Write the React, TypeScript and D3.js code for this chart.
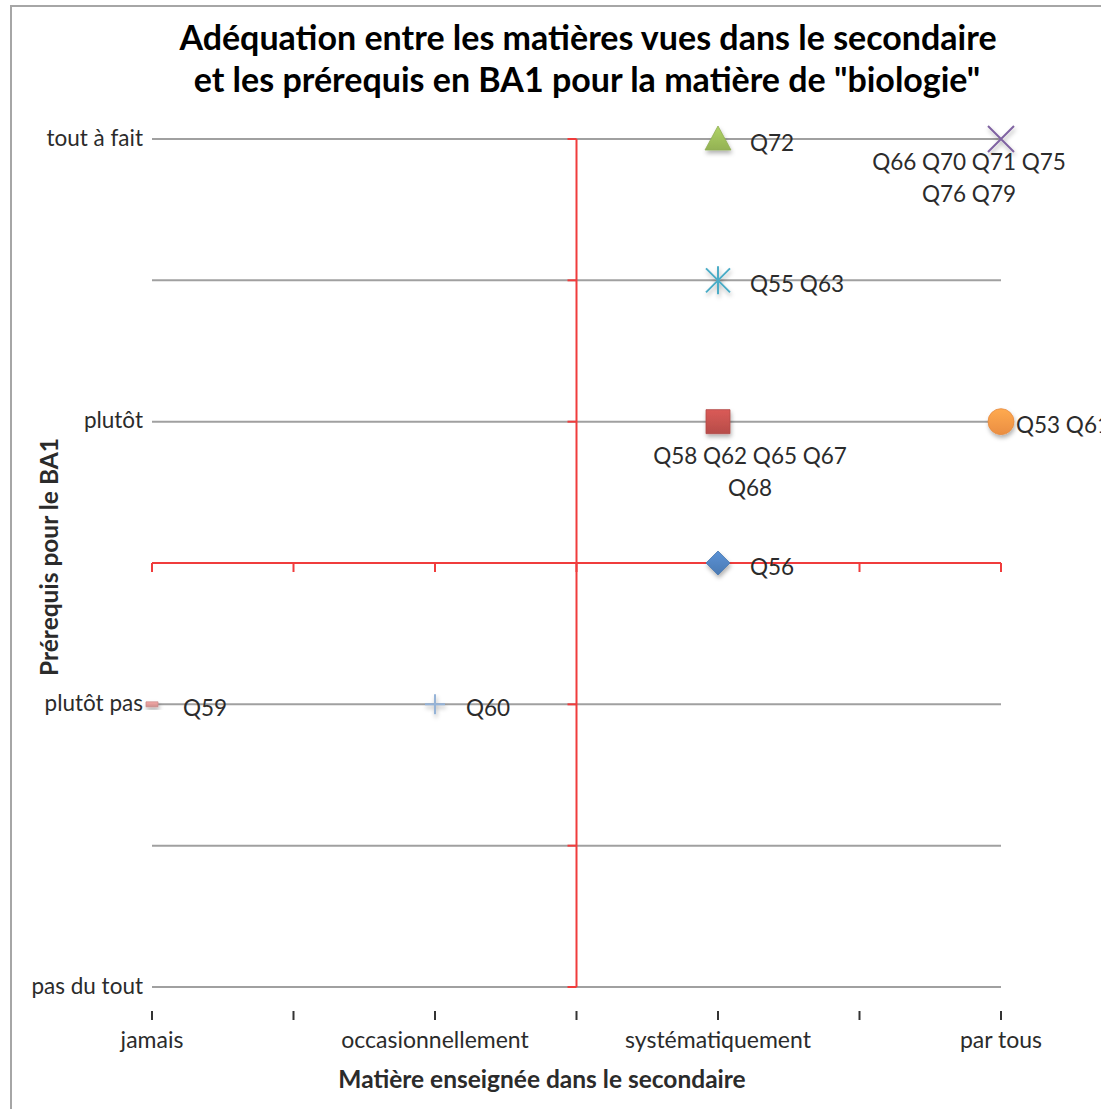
import React from "react";
import * as d3 from "d3";

const xCategoryLabels = ["jamais", "", "occasionnellement", "", "systématiquement", "", "par tous"];
const yCategoryLabels = ["pas du tout", "", "plutôt pas", "", "plutôt", "", "tout à fait"];

const seriesLabels = [
  ["Q56"],
  ["Q58 Q62 Q65 Q67", "Q68"],
  ["Q72"],
  ["Q66 Q70 Q71 Q75", "Q76 Q79"],
  ["Q55 Q63"],
  ["Q53 Q61"],
  ["Q59"],
  ["Q60"],
];
const seriesX = [4, 4, 4, 6, 4, 6, 0, 2];
const seriesY = [3, 4, 6, 6, 5, 4, 2, 2];
const seriesMarkers = ["diamond", "square", "triangle", "x", "asterisk", "circle", "dash", "plus"];
const seriesColors = ["#4F81BD", "#C0504D", "#9BBB59", "#8064A2", "#4BACC6", "#F79646", "#D99694", "#95B3D7"];
// label placement: [mode, dx, dy]
const labelPlacement: [string, number, number][] = [
  ["right", 32, 4],
  ["below", 32, 34],
  ["right", 32, 4],
  ["below", -32, 23],
  ["right", 32, 4],
  ["right", 15, 3],
  ["right", 31, 4],
  ["right", 31, 4],
];

const W = 1101;
const H = 1109;
const x = d3.scaleLinear().domain([0, 6]).range([152, 1001]);
const y = d3.scaleLinear().domain([0, 6]).range([987, 139]);
const FONT = "Lato, 'Open Sans', sans-serif";
const TXT = "#2b2b2b";

function markerPath(kind: string): string {
  switch (kind) {
    case "diamond":
      return "M0,-12L12,0L0,12L-12,0Z";
    case "square":
      return "M-12,-12H12V12H-12Z";
    case "triangle":
      return "M0,-13L13,11L-13,11Z";
    case "circle":
      return d3.symbol(d3.symbolCircle, Math.PI * 13 * 13)() as string;
    case "x":
      return "M-13,-13L13,13M-13,13L13,-13";
    case "asterisk":
      return "M-12,-12L12,12M-12,12L12,-12M0,-14V14";
    case "plus":
      return "M-10,0H10M0,-10V10";
    case "dash":
      return "M-6,-2.5H6V2.5H-6Z";
    default:
      return "";
  }
}

export default function App() {
  const xt = d3.range(0, 7);
  const yt = d3.range(0, 7);
  const lineKinds = new Set(["x", "asterisk", "plus"]);
  return (
    <div style={{ position: "absolute", left: 0, top: 0 }}>
      <svg width={W} height={H} style={{ display: "block", background: "#fff" }}>
        <defs>
          <filter id="sh" x="-50%" y="-50%" width="200%" height="200%">
            <feDropShadow dx="1" dy="3" stdDeviation="2" floodColor="#000" floodOpacity="0.3" />
          </filter>
          {seriesColors.map((c, i) => (
            <linearGradient key={i} id={`g${i}`} x1="0" y1="0" x2="0" y2="1">
              <stop offset="0" stopColor={d3.color(c)!.brighter(0.35).formatHex()} />
              <stop offset="1" stopColor={d3.color(c)!.darker(0.15).formatHex()} />
            </linearGradient>
          ))}
        </defs>
        <rect x={11} y={6} width={1300} height={1300} fill="#fff" stroke="#a6a6a6" strokeWidth={2} />

        {/* title */}
        <text x={588} y={50} textAnchor="middle" fontFamily={FONT} fontWeight="bold" fontSize={34} fill="#000">
          Adéquation entre les matières vues dans le secondaire
        </text>
        <text x={587} y={92} textAnchor="middle" fontFamily={FONT} fontWeight="bold" fontSize={34} fill="#000">
          et les prérequis en BA1 pour la matière de "biologie"
        </text>

        {/* gridlines */}
        {yt.map((v) => (
          <line key={v} x1={x(0)} x2={x(6)} y1={y(v)} y2={y(v)} stroke="#a0a0a0" strokeWidth={2} />
        ))}

        {/* y labels */}
        {yt.map((v) =>
          yCategoryLabels[v] ? (
            <text key={v} x={143} y={y(v)} dy="0.3em" textAnchor="end" fontFamily={FONT} fontSize={22.5} fill={TXT}>
              {yCategoryLabels[v]}
            </text>
          ) : null
        )}

        {/* x ticks and labels */}
        {xt.map((v) => (
          <g key={v}>
            <line x1={x(v)} x2={x(v)} y1={1011} y2={1020} stroke="#333" strokeWidth={2} />
            {xCategoryLabels[v] ? (
              <text x={x(v)} y={1048} textAnchor="middle" fontFamily={FONT} fontSize={23} fill={TXT}>
                {xCategoryLabels[v]}
              </text>
            ) : null}
          </g>
        ))}

        {/* red cross axes */}
        <line x1={x(0)} x2={x(6)} y1={y(3)} y2={y(3)} stroke="#f03c3c" strokeWidth={2} />
        {xt.map((v) => (
          <line key={v} x1={x(v)} x2={x(v)} y1={y(3)} y2={y(3) + 9} stroke="#f03c3c" strokeWidth={2} />
        ))}
        <line x1={x(3)} x2={x(3)} y1={y(6)} y2={y(0)} stroke="#f03c3c" strokeWidth={2} />
        {yt.map((v) => (
          <line key={v} x1={x(3) - 9} x2={x(3)} y1={y(v)} y2={y(v)} stroke="#f03c3c" strokeWidth={2} />
        ))}

        {/* axis titles */}
        <text x={542} y={1088} textAnchor="middle" fontFamily={FONT} fontWeight="bold" fontSize={24.5} fill={TXT}>
          Matière enseignée dans le secondaire
        </text>
        <text
          transform={`translate(58,${557}) rotate(-90)`}
          textAnchor="middle"
          fontFamily={FONT}
          fontWeight="bold"
          fontSize={24.5}
          fill={TXT}
        >
          Prérequis pour le BA1
        </text>

        {/* markers */}
        {seriesX.map((sx, i) => {
          const kind = seriesMarkers[i];
          const isLine = lineKinds.has(kind);
          return (
            <path
              key={i}
              transform={`translate(${x(sx)},${y(seriesY[i])})`}
              d={markerPath(kind)}
              fill={isLine ? "none" : `url(#g${i})`}
              stroke={isLine ? seriesColors[i] : d3.color(seriesColors[i])!.darker(0.2).formatHex()}
              strokeWidth={isLine ? 2 : 0.8}
              filter="url(#sh)"
            />
          );
        })}

        {/* data labels */}
        {seriesX.map((sx, i) => {
          const [mode, dx, dy] = labelPlacement[i];
          const px = x(sx) + dx;
          const py = y(seriesY[i]) + dy;
          return (
            <text
              key={i}
              fontFamily={FONT}
              fontSize={22.5}
              fill={TXT}
              textAnchor={mode === "below" ? "middle" : "start"}
            >
              {seriesLabels[i].map((ln, k) => (
                <tspan key={k} x={px} y={py + k * 32} dy="0.35em">
                  {ln}
                </tspan>
              ))}
            </text>
          );
        })}
      </svg>
    </div>
  );
}
